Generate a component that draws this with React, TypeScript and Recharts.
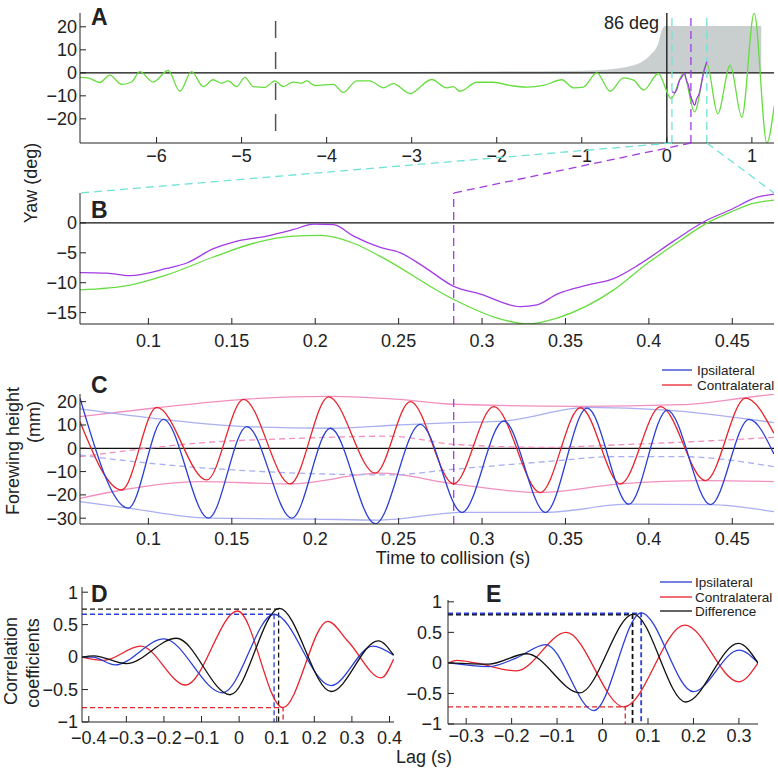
import { ComposedChart, Line, Area, XAxis, YAxis, ReferenceLine } from 'recharts';

const FONT = '"Liberation Sans", Arial, Helvetica, sans-serif';
const INK = '#222';

// colours
const GREEN = '#66dd3f';
const PURPLE = '#a23be6';
const CYAN = '#70e3d6';
const BLUE = '#2b3fd6';
const RED = '#e8232b';
const PINK = '#f28fbf';
const LBLUE = '#a9aff0';
const GREY = '#c9cfcf';

// ---- Panel A : yaw over the whole approach (t, deg)
const yawFull = [
  [-6.902, -2.0], [-6.805, -2.2], [-6.667, -4.2], [-6.549, -1.0], [-6.412, -5.0], [-6.294, -4.0],
  [-6.196, 0.5], [-6.04, -4.0], [-5.863, 1.0], [-5.726, -8.0], [-5.588, 0.5], [-5.451, -6.0],
  [-5.334, -3.0], [-5.235, -4.5], [-5.157, -3.5], [-5.059, -6.0], [-4.961, -2.0], [-4.863, -6.0],
  [-4.726, -6.3], [-4.608, -3.5], [-4.51, -6.0], [-4.393, -4.0], [-4.294, -4.5], [-4.235, -3.5],
  [-4.138, -5.5], [-3.922, -5.0], [-3.805, -8.5], [-3.647, -3.5], [-3.491, -3.5], [-3.334, -6.5],
  [-3.216, -4.7], [-3.02, -9.0], [-2.765, -2.9], [-2.588, -6.5], [-2.51, -6.0], [-2.432, -8.0],
  [-2.235, -4.1], [-2.04, -4.1], [-1.843, -5.5], [-1.647, -6.2], [-1.451, -5.5], [-1.235, -3.0],
  [-1.098, -6.5], [-0.98, -6.2], [-0.824, 0.0], [-0.667, -8.0], [-0.51, -2.2], [-0.392, -3.2],
  [-0.27, -7.5], [-0.1, -0.3], [0.05, -11.2], [0.196, -0.3], [0.325, -17.0], [0.47, 4.0],
  [0.598, -17.8], [0.745, 3.3], [0.882, -19.3], [1.027, 26.0], [1.176, -30.5], [1.262, -14.5],
];
// stimulus angle (scaled), 86 deg at collision
const stimulus = [
  [-6.9, 0.2], [-4, 0.3], [-2, 0.6], [-1, 0.9], [-0.78, 1.2], [-0.39, 3.3], [-0.196, 7.7],
  [-0.1, 12.8], [-0.06, 18.6], [-0.02, 20.3], [1.11, 20.3],
];

// ---- Panel B : yaw close to collision
const yawIpsi = [
  [0.059, -8.3], [0.075, -8.4], [0.089, -8.8], [0.111, -7.6], [0.123, -6.7], [0.139, -4.3],
  [0.151, -3.2], [0.171, -2.2], [0.187, -1.1], [0.199, -0.2], [0.211, -0.3], [0.223, -2.2],
  [0.239, -4.1], [0.251, -5.0], [0.265, -7.3], [0.283, -10.6], [0.299, -11.9], [0.323, -14.0],
  [0.333, -13.7], [0.345, -11.9], [0.363, -10.4], [0.379, -9.3], [0.395, -6.8], [0.415, -3.0],
  [0.433, 0.2], [0.449, 2.2], [0.465, 4.3], [0.475, 4.8],
];
const yawModel = [
  [0.059, -11.2], [0.089, -10.4], [0.111, -8.7], [0.139, -5.7], [0.163, -3.4], [0.187, -2.2],
  [0.203, -2.1], [0.223, -3.4], [0.239, -5.6], [0.283, -12.8], [0.309, -15.9], [0.327, -16.9],
  [0.345, -15.9], [0.379, -11.2], [0.399, -6.8], [0.419, -2.9], [0.435, 0.0], [0.449, 1.8],
  [0.463, 3.3], [0.475, 3.8],
];

// ---- Panel C : forewing height (mm)
const wingIpsi = [
  [0.059, 21.5], [0.088, -25.7], [0.109, 12.4], [0.136, -30], [0.159, 9.3], [0.186, -30],
  [0.209, 8.6], [0.236, -32.4], [0.263, 10.3], [0.288, -27.5], [0.313, 11.7], [0.338, -27.5],
  [0.363, 17.2], [0.388, -24], [0.411, 16.4], [0.437, -24.2], [0.46, 12.4], [0.475, -2.5],
];
const wingContra = [
  [0.059, 11.4], [0.084, -17.9], [0.105, 17.6], [0.135, -13.6], [0.157, 21], [0.185, -15.3],
  [0.208, 22.1], [0.236, -10.7], [0.257, 20], [0.283, -15.3], [0.307, 17.9], [0.335, -19],
  [0.359, 17.4], [0.383, -15.3], [0.407, 17.9], [0.434, -13.9], [0.458, 21.5], [0.475, 6.4],
];
const contraUpper = [
  [0.059, 13.6], [0.105, 17.4], [0.157, 21], [0.208, 22.3], [0.25, 21], [0.283, 18.9],
  [0.359, 18], [0.419, 18.7], [0.46, 21.9], [0.475, 23.2],
];
const contraLower = [
  [0.059, -21.5], [0.084, -17.9], [0.131, -14.3], [0.185, -15.3], [0.239, -10.7], [0.283, -15.3],
  [0.335, -19], [0.383, -15.3], [0.434, -13.9], [0.475, -14.3],
];
const ipsiUpper = [
  [0.059, 16.9], [0.109, 12.4], [0.159, 9.3], [0.209, 8.6], [0.25, 10], [0.283, 11],
  [0.313, 11.7], [0.363, 17.6], [0.411, 16.4], [0.475, 11],
];
const ipsiLower = [
  [0.059, -22.9], [0.088, -25.7], [0.136, -30], [0.198, -30.4], [0.239, -30.8], [0.288, -27.5],
  [0.338, -27.5], [0.388, -24], [0.437, -24.2], [0.475, -27.2],
];
const contraMean = [
  [0.059, -3.6], [0.091, -0.7], [0.131, 2.3], [0.191, 4.3], [0.245, 5.2], [0.283, 1.7],
  [0.339, 0.4], [0.379, 1.4], [0.439, 3.3], [0.475, 4.7],
];
const ipsiMean = [
  [0.059, -2.9], [0.091, -5.7], [0.151, -9.3], [0.191, -10.7], [0.245, -11.4], [0.283, -9],
  [0.339, -5.7], [0.379, -3.6], [0.419, -3.6], [0.475, -7.9],
];

// ---- Panel D : cross-correlation, lag (s)
const dIpsi = [
  [-0.418, 0], [-0.39, 0.0], [-0.33, -0.12], [-0.2, 0.28], [-0.044, -0.55], [0.093, 0.66],
  [0.244, -0.44], [0.356, 0.17], [0.411, 0.03],
];
const dContra = [
  [-0.418, 0], [-0.36, -0.05], [-0.262, 0.17], [-0.142, -0.43], [-0.004, 0.71], [0.116, -0.78],
  [0.236, 0.55], [0.29, 0.24], [0.378, -0.32], [0.411, -0.03],
];
const dDiff = [
  [-0.418, 0], [-0.387, 0.02], [-0.3, -0.1], [-0.167, 0.29], [-0.024, -0.58], [0.107, 0.75],
  [0.245, -0.53], [0.37, 0.25], [0.411, 0.03],
];
const dPeaks = { ipsi: [0.093, 0.66], contra: [0.117, -0.78], diff: [0.105, 0.74] };

// ---- Panel E
const eIpsi = [
  [-0.339, 0], [-0.25, -0.06], [-0.19, 0.08], [-0.125, 0.3], [-0.019, -0.78], [0.085, 0.82],
  [0.2, -0.47], [0.3, 0.21], [0.342, 0],
];
const eContra = [
  [-0.339, 0], [-0.32, 0.04], [-0.28, 0.0], [-0.189, -0.13], [-0.08, 0.5], [0.047, -0.72],
  [0.181, 0.62], [0.3, -0.31], [0.342, 0],
];
const eDiff = [
  [-0.339, 0], [-0.25, -0.02], [-0.167, 0.15], [-0.05, -0.49], [0.068, 0.8], [0.183, -0.64],
  [0.299, 0.32], [0.342, 0],
];
const ePeaks = { ipsi: [0.085, 0.81], contra: [0.05, -0.72], diff: [0.066, 0.79] };

const ticksA = [-6, -5, -4, -3, -2, -1, 0, 1];
const ticksAy = [-20, -10, 0, 10, 20];
const ticksT = [0.1, 0.15, 0.2, 0.25, 0.3, 0.35, 0.4, 0.45];
const ticksBy = [-15, -10, -5, 0];
const ticksCy = [-30, -20, -10, 0, 10, 20];
const ticksD = [-0.4, -0.3, -0.2, -0.1, 0, 0.1, 0.2, 0.3, 0.4];
const ticksE = [-0.3, -0.2, -0.1, 0, 0.1, 0.2, 0.3];
const ticksCorr = [-1, -0.5, 0, 0.5, 1];

// plot boxes and domains
const BOX_A = { l: 80, r: 774, t: 13, b: 143 };
const BOX_B = { l: 80, r: 774, t: 193, b: 324 };
const BOX_C = { l: 80, r: 774, t: 394, b: 524 };
const BOX_D = { l: 82, r: 394, t: 587, b: 722 };
const BOX_E = { l: 448, r: 758, t: 600, b: 724 };
const DOM_A: [number, number] = [-6.9, 1.26];
const DOM_T: [number, number] = [0.059, 0.475];
const DOM_D: [number, number] = [-0.418, 0.412];
const DOM_E: [number, number] = [-0.34, 0.342];
const T_MARK = 0.283; // purple marker
const ZOOM_WIN = [0.06, 0.47];

const pts = (arr: number[][]) => arr.map(([t, v]) => ({ t, v }));
const minus = (v: number) => String(v).replace('-', '\u2212');
const sx = (box: any, dom: number[], v: number) => box.l + ((v - dom[0]) / (dom[1] - dom[0])) * (box.r - box.l);

// dashed guide: from the y axis to the peak, then down to the lag axis
const peakGuide = (p: number[], x0: number) => [[x0, p[1]], [p[0], p[1]], [p[0], -1]];

function Panel({ box, xDom, yDom, xTicks, yTicks, xMargin, yMargin, children }: any) {
  const padL = 60, padT = 12, padR = 20, axisH = 30;
  const tickStyle = { fill: INK, fontSize: 18, fontFamily: FONT };
  return (
    <div style={{ position: 'absolute', left: box.l - padL, top: box.t - padT }}>
      <ComposedChart
        width={box.r - box.l + padL + padR}
        height={box.b - box.t + padT + axisH}
        margin={{ top: padT, right: padR, left: 0, bottom: 0 }}
      >
        <XAxis type="number" dataKey="t" domain={xDom} ticks={xTicks} interval={0} allowDataOverflow
          height={axisH} tickSize={-6} tickMargin={xMargin} tick={tickStyle} tickFormatter={minus}
          axisLine={{ stroke: INK }} tickLine={{ stroke: INK }} />
        <YAxis type="number" domain={yDom} ticks={yTicks} interval={0} allowDataOverflow
          width={padL} tickSize={-6} tickMargin={yMargin} tick={tickStyle} tickFormatter={minus}
          axisLine={{ stroke: INK }} tickLine={{ stroke: INK }} />
        {children}
      </ComposedChart>
    </div>
  );
}

const guide = (key: string, data: number[][], color: string, w = 1.3) => (
  <Line key={key} data={pts(data)} dataKey="v" type="linear" stroke={color}
    strokeWidth={w} strokeDasharray="5 3" dot={false} activeDot={false} isAnimationActive={false} />
);
const smooth = (key: string, data: number[][], color: string, dash?: string) => (
  <Line key={key} data={pts(data)} dataKey="v" type="monotone" stroke={color} strokeWidth={1.3}
    strokeDasharray={dash} dot={false} activeDot={false} isAnimationActive={false} />
);

export default function App() {
  const aBottom = BOX_A.b;
  return (
    <div style={{ position: 'absolute', left: 0, top: 0, width: 778, height: 774, background: '#fff', fontFamily: FONT, overflow: 'hidden' }}>
      {/* A */}
      <Panel box={BOX_A} xDom={DOM_A} yDom={[-30.5, 26]} xTicks={ticksA} yTicks={ticksAy} xMargin={12} yMargin={9}>
        <Area data={pts(stimulus)} dataKey="v" type="monotone" baseValue={0} stroke="none" fill={GREY}
          fillOpacity={1} isAnimationActive={false} />
        <ReferenceLine y={0} stroke="#111" strokeWidth={1.3} />
        <ReferenceLine x={0} stroke="#111" strokeWidth={1.3} />
        <ReferenceLine segment={[{ x: -4.6, y: 22.5 }, { x: -4.6, y: -30.5 }]} stroke="#555" strokeWidth={1.5} strokeDasharray="17 14" />
        <ReferenceLine x={ZOOM_WIN[0]} stroke={CYAN} strokeWidth={1.3} strokeDasharray="8 5" />
        <ReferenceLine x={ZOOM_WIN[1]} stroke={CYAN} strokeWidth={1.3} strokeDasharray="8 5" />
        <ReferenceLine x={T_MARK} stroke={PURPLE} strokeWidth={1.3} strokeDasharray="8 5" />
        {smooth('yawFull', yawFull, GREEN)}
        {smooth('yawIpsiA', yawIpsi, PURPLE)}
      </Panel>

      {/* B */}
      <Panel box={BOX_B} xDom={DOM_T} yDom={[-16.9, 5]} xTicks={ticksT} yTicks={ticksBy} xMargin={16} yMargin={9}>
        <ReferenceLine y={0} stroke="#111" strokeWidth={1.3} />
        <ReferenceLine x={T_MARK} stroke={PURPLE} strokeWidth={1.3} strokeDasharray="8 5" />
        {smooth('yawModel', yawModel, GREEN)}
        {smooth('yawIpsi', yawIpsi, PURPLE)}
      </Panel>

      {/* C */}
      <Panel box={BOX_C} xDom={DOM_T} yDom={[-32.5, 23.3]} xTicks={ticksT} yTicks={ticksCy} xMargin={14} yMargin={9}>
        <ReferenceLine y={0} stroke="#111" strokeWidth={1.3} />
        {smooth('contraUpper', contraUpper, PINK)}
        {smooth('contraLower', contraLower, PINK)}
        {smooth('ipsiUpper', ipsiUpper, LBLUE)}
        {smooth('ipsiLower', ipsiLower, LBLUE)}
        {smooth('contraMean', contraMean, PINK, '6 4')}
        {smooth('ipsiMean', ipsiMean, LBLUE, '6 4')}
        <ReferenceLine x={T_MARK} stroke={PURPLE} strokeWidth={1.3} strokeDasharray="8 5" />
        {smooth('wingContra', wingContra, RED)}
        {smooth('wingIpsi', wingIpsi, BLUE)}
      </Panel>

      {/* D */}
      <Panel box={BOX_D} xDom={DOM_D} yDom={[-1, 1.08]} xTicks={ticksD} yTicks={ticksCorr} xMargin={15} yMargin={10}>
        {guide('dgDiff', peakGuide(dPeaks.diff, DOM_D[0]), '#111')}
        {guide('dgIpsi', peakGuide(dPeaks.ipsi, DOM_D[0]), BLUE)}
        {guide('dgContra', peakGuide(dPeaks.contra, DOM_D[0]), RED)}
        {smooth('dContra', dContra, RED)}
        {smooth('dIpsi', dIpsi, BLUE)}
        {smooth('dDiff', dDiff, '#111')}
      </Panel>

      {/* E */}
      <Panel box={BOX_E} xDom={DOM_E} yDom={[-1, 1.03]} xTicks={ticksE} yTicks={ticksCorr} xMargin={11} yMargin={12}>
        {guide('egDiff', peakGuide(ePeaks.diff, DOM_E[0]), '#111', 1.8)}
        {guide('egIpsi', peakGuide(ePeaks.ipsi, DOM_E[0]), BLUE, 1.8)}
        {guide('egContra', peakGuide(ePeaks.contra, DOM_E[0]), RED)}
        {smooth('eContra', eContra, RED)}
        {smooth('eIpsi', eIpsi, BLUE)}
        {smooth('eDiff', eDiff, '#111')}
      </Panel>

      {/* labels, legends and the A->B zoom connectors */}
      <svg width={778} height={774} style={{ position: 'absolute', left: 0, top: 0, pointerEvents: 'none' }}
        fontFamily={FONT} fill={INK}>
        <line x1={sx(BOX_A, DOM_A, ZOOM_WIN[0])} y1={aBottom} x2={BOX_B.l} y2={BOX_B.t} stroke={CYAN} strokeWidth={1.3} strokeDasharray="8 5" />
        <line x1={sx(BOX_A, DOM_A, ZOOM_WIN[1])} y1={aBottom} x2={BOX_B.r} y2={BOX_B.t} stroke={CYAN} strokeWidth={1.3} strokeDasharray="8 5" />
        <line x1={sx(BOX_A, DOM_A, T_MARK)} y1={aBottom} x2={sx(BOX_B, DOM_T, T_MARK)} y2={BOX_B.t} stroke={PURPLE} strokeWidth={1.3} strokeDasharray="8 5" />

        <g fontWeight="bold" fontSize={23}>
          <text x={91} y={25}>A</text>
          <text x={91} y={218}>B</text>
          <text x={91} y={393}>C</text>
          <text x={91} y={602}>D</text>
          <text x={486} y={602}>E</text>
        </g>
        <text x={659} y={29} fontSize={18} textAnchor="end">86 deg</text>

        <g fontSize={18} textAnchor="middle" dominantBaseline="central">
          <text transform="translate(31,183) rotate(-90)">Yaw (deg)</text>
          <text transform="translate(13,451) rotate(-90)">Forewing height</text>
          <text transform="translate(34,422) rotate(-90)">(mm)</text>
          <text x={453} y={558}>Time to collision (s)</text>
          <text transform="translate(11,661) rotate(-90)">Correlation</text>
          <text transform="translate(33,663) rotate(-90)">coefficients</text>
          <text x={424} y={757}>Lag (s)</text>
        </g>

        <g fontSize={13.5} dominantBaseline="central">
          <line x1={662} x2={692} y1={370} y2={370} stroke={BLUE} strokeWidth={1.3} />
          <text x={697} y={370}>Ipsilateral</text>
          <line x1={662} x2={692} y1={385} y2={385} stroke={RED} strokeWidth={1.3} />
          <text x={697} y={385}>Contralateral</text>

          <line x1={660} x2={692} y1={582} y2={582} stroke={BLUE} strokeWidth={1.3} />
          <text x={695} y={582}>Ipsilateral</text>
          <line x1={660} x2={692} y1={597} y2={597} stroke={RED} strokeWidth={1.3} />
          <text x={695} y={597}>Contralateral</text>
          <line x1={660} x2={692} y1={611} y2={611} stroke="#111" strokeWidth={1.3} />
          <text x={695} y={611}>Difference</text>
        </g>
      </svg>
    </div>
  );
}
